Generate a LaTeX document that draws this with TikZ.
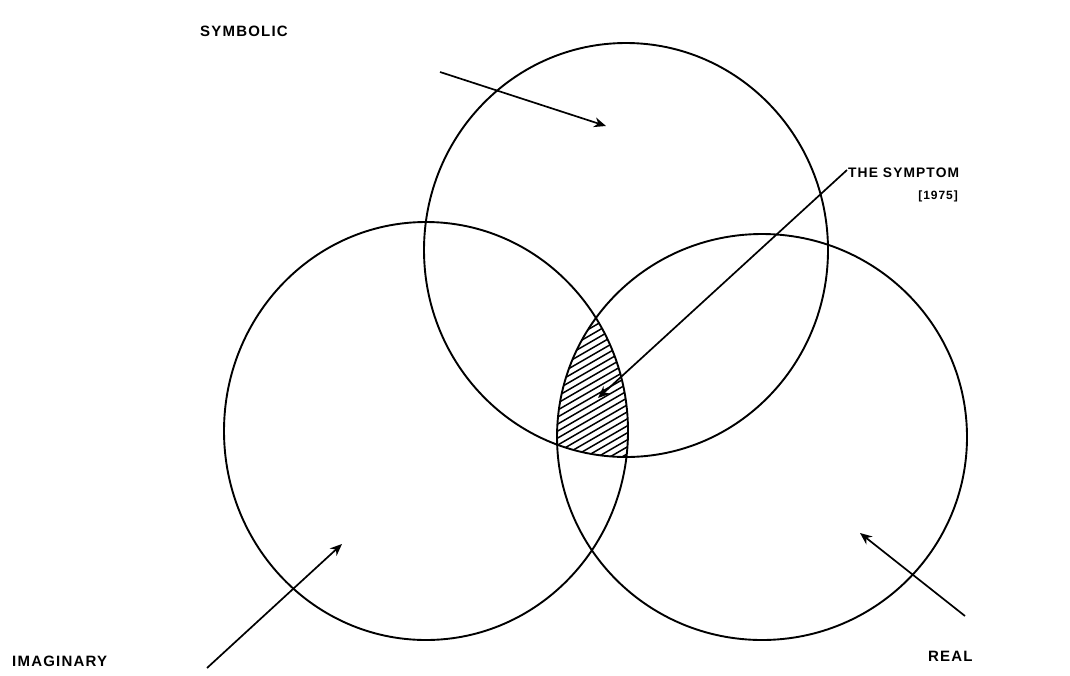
\documentclass[tikz,border=0pt]{standalone}
\usepackage{fontspec}
\newfontfamily\labfont[LetterSpace=8]{Liberation Sans}
\usetikzlibrary{arrows.meta}
\tikzset{
  ring/.style={line width=1.9pt, black},
  arr/.style={line width=1.7pt, -{Stealth[length=12pt,width=10pt]}},
  lab/.style={font=\labfont\bfseries\fontsize{15}{17}\selectfont, inner sep=0pt},
  hatch/.style={line width=1.5pt}
}
\begin{document}
\begin{tikzpicture}[x=1pt,y=-1pt]
\useasboundingbox (0,0) rectangle (1070,675);
\fill[white] (0,0) rectangle (1070,675);

% circle centres
\coordinate (cS) at (626,250);
\coordinate (cI) at (426,431);
\coordinate (cR) at (762,437);

% hatched triple intersection
\begin{scope}
  \clip (cS) ellipse [x radius=202pt, y radius=207pt];
  \clip (cI) ellipse [x radius=202pt, y radius=209pt];
  \clip (cR) ellipse [x radius=205pt, y radius=203pt];
  \foreach \c in {300,307,...,560} {
    \draw[hatch] (530,\c) -- (660,\c-75);
  }
\end{scope}

% the three rings
\draw[ring] (cS) ellipse [x radius=202pt, y radius=207pt];
\draw[ring] (cI) ellipse [x radius=202pt, y radius=209pt];
\draw[ring] (cR) ellipse [x radius=205pt, y radius=203pt];

% labels
\node[lab, anchor=west] (symb) at (200,31) {SYMBOLIC};
\node[lab, anchor=west] (imag) at (12,661) {IMAGINARY};
\node[lab, anchor=west] (real) at (928,656) {REAL};
\node[lab, anchor=west, font=\labfont\bfseries\fontsize{13.8}{16}\selectfont] (symp) at (848,173) {THE SYMPTOM};
\node[lab, anchor=east, font=\labfont\bfseries\fontsize{12}{14}\selectfont] (year) at (958,196) {[1975]};

% arrow ends
\coordinate (symA) at (440,72);
\coordinate (symB) at (606,126);
\coordinate (impA) at (207,668);
\coordinate (impB) at (342,544);
\coordinate (reaA) at (965,616);
\coordinate (reaB) at (860,533);
\coordinate (smpA) at (847,170);
\coordinate (smpB) at (598,398);

\draw[arr] (symA) -- (symB);
\draw[arr] (impA) -- (impB);
\draw[arr] (reaA) -- (reaB);
\draw[arr] (smpA) -- (smpB);
\end{tikzpicture}
\end{document}
